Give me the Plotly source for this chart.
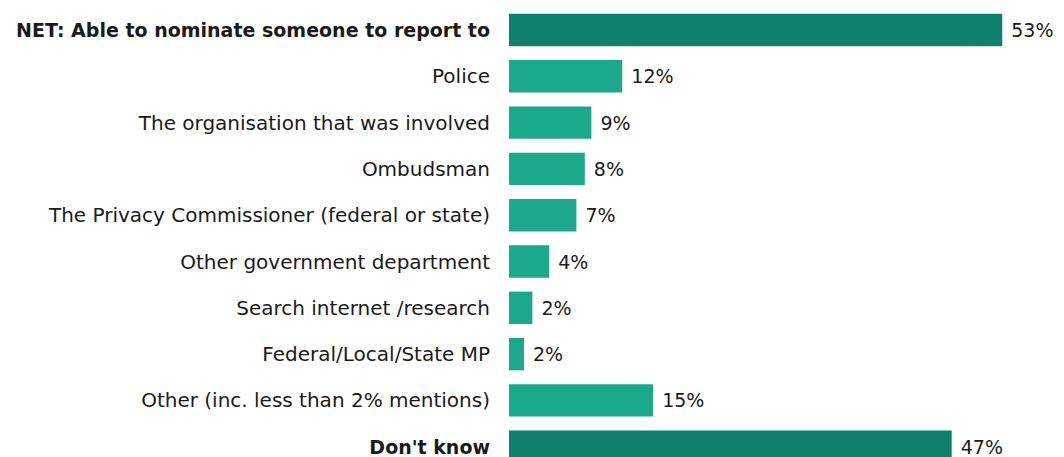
import plotly.graph_objects as go

categories = [
    "NET: Able to nominate someone to report to",
    "Police",
    "The organisation that was involved",
    "Ombudsman",
    "The Privacy Commissioner (federal or state)",
    "Other government department",
    "Search internet /research",
    "Federal/Local/State MP",
    "Other (inc. less than 2% mentions)",
    "Don't know",
]
values = [52.7, 12.1, 8.8, 8.1, 7.2, 4.3, 2.5, 1.6, 15.4, 47.3]
labels = ["53%", "12%", "9%", "8%", "7%", "4%", "2%", "2%", "15%", "47%"]
bold = [True, False, False, False, False, False, False, False, False, True]

DARK = "#0E806C"
LIGHT = "#1AA98B"
colors = [DARK if b else LIGHT for b in bold]
ticktext = [
    f"<span style='font-size:19px'><b>{c}</b></span>" if b else c
    for c, b in zip(categories, bold)
]

FONT = "DejaVu Sans"

fig = go.Figure(
    go.Bar(
        x=values,
        y=list(range(len(categories))),
        orientation="h",
        marker=dict(color=colors, line=dict(width=0)),
        width=0.7,
        text=["\u00a0" + t for t in labels],
        textposition="outside",
        textfont=dict(family=FONT, size=19, color="#1a1a1a"),
        cliponaxis=False,
        hoverinfo="skip",
    )
)

fig.update_layout(
    width=1064,
    height=457,
    margin=dict(l=509, r=0, t=0, b=0, autoexpand=False),
    plot_bgcolor="white",
    paper_bgcolor="white",
    showlegend=False,
    font=dict(family=FONT, size=19, color="#1a1a1a"),
)
fig.update_xaxes(range=[0, 59.3], visible=False, showgrid=False, zeroline=False,
                 automargin=False)
fig.update_yaxes(
    tickmode="array",
    tickvals=list(range(len(categories))),
    ticktext=ticktext,
    range=[9.222, -0.648],
    showgrid=False,
    zeroline=False,
    showline=False,
    ticks="",
    ticklabelstandoff=18,
    ticklabeloverflow="allow",
    automargin=False,
    tickfont=dict(family=FONT, size=20, color="#1a1a1a"),
)

fig.write_html(
    "out.html",
    config={"displayModeBar": False},
    post_script="document.body.style.margin='0';",
)
